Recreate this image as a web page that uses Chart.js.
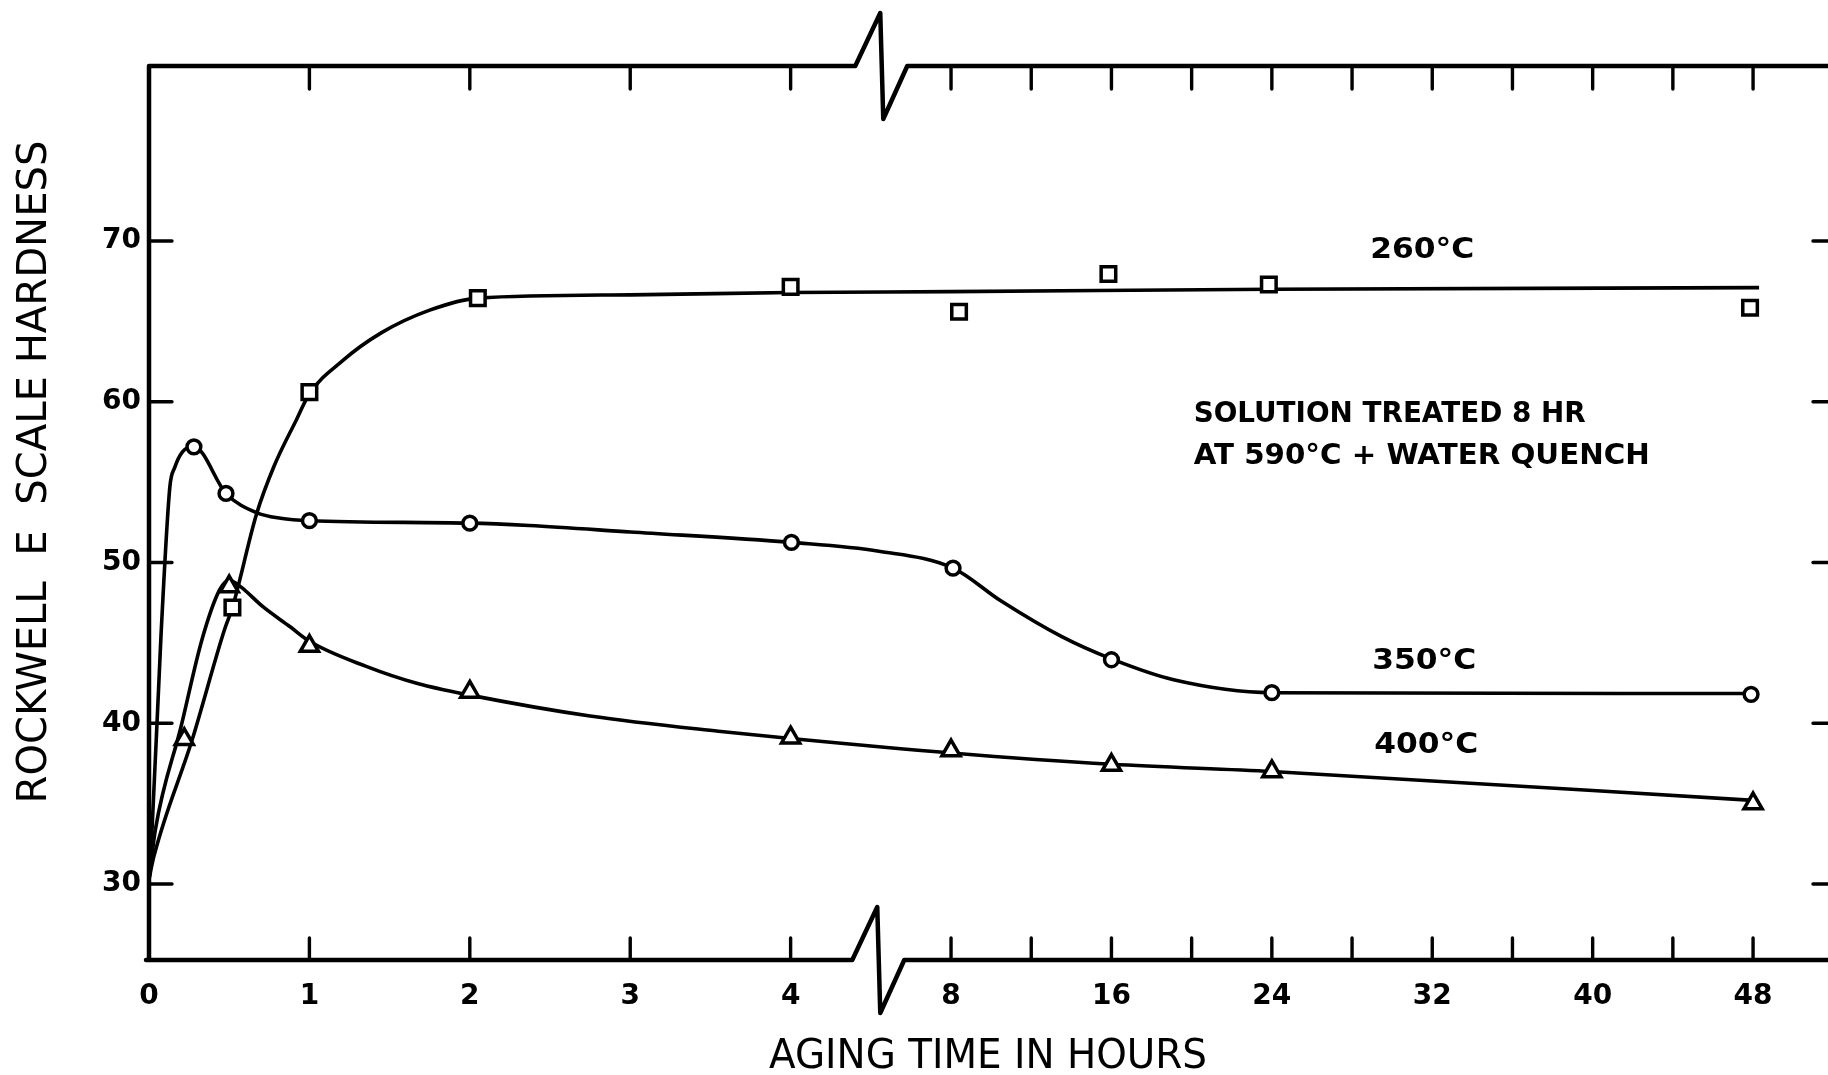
<!DOCTYPE html>
<html>
<head>
<meta charset="utf-8">
<title>Rockwell E hardness vs aging time</title>
<script src="https://cdn.jsdelivr.net/npm/chart.js@4.4.1/dist/chart.umd.min.js"></script>
<style>
  html, body { margin: 0; padding: 0; overflow: hidden; background: #fff; }
  canvas { display: block; }
</style>
</head>
<body>
<canvas id="chart" width="1850" height="1075"></canvas>
<script>
// measured points (aging time in hours, Rockwell E hardness)
const hours260 = [0.52, 1.0, 2.05, 4.0, 8.4, 15.85, 23.85, 47.85];
const hard260  = [47.2, 60.6, 66.45, 67.15, 65.6, 67.95, 67.3, 65.85];

const hours350 = [0.28, 0.48, 1.0, 2.0, 4.02, 8.1, 16.0, 24.0, 47.9];
const hard350  = [57.2, 54.3, 52.6, 52.45, 51.25, 49.65, 43.95, 41.9, 41.8];

const hours400 = [0.22, 0.5, 1.0, 2.0, 4.0, 8.0, 16.0, 24.0, 48.0];
const hard400  = [39.0, 48.5, 44.8, 41.95, 39.1, 38.3, 37.4, 37.0, 35.0];

// hand-drawn fitted curves
const curveHours260 = [0, 0.03, 0.27, 0.47, 0.52, 0.67, 0.78, 0.92, 1.0, 1.2, 1.45, 1.75, 2.05, 3.0, 4.0, 8.0, 24.0, 48.3];
const curveHard260  = [30.3, 31.7, 39.0, 45.8, 47.2, 53.0, 56.0, 58.9, 60.5, 62.5, 64.3, 65.7, 66.45, 66.65, 66.8, 66.85, 67.0, 67.1];

const curveHours350 = [0, 0.01, 0.075, 0.13, 0.16, 0.21, 0.28, 0.48, 0.67, 0.82, 1.0, 2.0, 2.37, 3.0, 4.02, 6.2, 8.1, 10.5, 13.5, 16.0, 19.1, 24.0, 48.2];
const curveHard350  = [30.2, 31.5, 45.5, 54.7, 55.9, 56.9, 57.2, 54.3, 53.1, 52.75, 52.6, 52.45, 52.3, 51.9, 51.25, 50.7, 49.65, 47.6, 45.4, 44.0, 42.7, 41.9, 41.85];

const curveHours400 = [0, 0.04, 0.2, 0.33, 0.44, 0.5, 0.57, 0.71, 0.88, 1.0, 1.35, 1.68, 2.0, 2.75, 3.55, 4.0, 8.0, 16.0, 24.0, 48.0];
const curveHard400  = [30.3, 33.4, 39.8, 45.2, 48.3, 48.9, 48.5, 47.25, 46.0, 45.1, 43.55, 42.45, 41.75, 40.45, 39.5, 39.05, 38.15, 37.45, 37.0, 35.2];

// axes
const tickHours  = [0, 1, 2, 3, 4, 8, 16, 24, 32, 40, 48];
const minorHours = [1, 2, 3, 4, 8, 12, 16, 20, 24, 28, 32, 36, 40, 44, 48];
const yTicks     = [30, 40, 50, 60, 70];

// broken time axis: 0-4 h linear, then 8 h per division
function toAxis(h) {
  if (h <= 4) return h;
  if (h >= 8) return 4 + h / 8;
  return 4 + (h - 4) / 4;
}
const BREAK_AT = 4.565;

const curveLabels = [
  { text: '260°C', h: 31.5, v: 69.4 },
  { text: '350°C', h: 31.6, v: 43.8 },
  { text: '400°C', h: 31.7, v: 38.6 }
];
const noteLines = [
  { text: 'SOLUTION TREATED 8 HR', h: 20.1, v: 59.2, w: 392 },
  { text: 'AT 590°C + WATER QUENCH', h: 20.1, v: 56.6, w: 456 }
];

const FONT = "'DejaVu Sans', sans-serif";

function pts(hs, vs) {
  return hs.map((h, i) => ({ x: toAxis(h), y: vs[i] }));
}

function markerSet(hs, vs, style, r) {
  return {
    data: pts(hs, vs),
    showLine: false,
    pointStyle: style,
    pointRadius: r,
    pointBorderWidth: 3.5,
    pointBorderColor: '#000',
    pointBackgroundColor: '#fff'
  };
}

function curveSet(hs, vs) {
  return {
    data: pts(hs, vs),
    showLine: true,
    borderColor: '#000',
    borderWidth: 3.6,
    pointRadius: 0,
    cubicInterpolationMode: 'monotone',
    fill: false
  };
}

function zigLine(c, y, bx, x1) {
  c.lineTo(bx - 26, y);
  c.lineTo(bx - 1, y - 53);
  c.lineTo(bx + 2, y + 53);
  c.lineTo(bx + 26, y);
  c.lineTo(x1, y);
}

// draw text squeezed or stretched to a given width
function fitText(c, text, x, y, w, align) {
  const m = c.measureText(text).width;
  c.save();
  c.translate(x, y);
  c.scale(w / m, 1);
  c.textAlign = align;
  c.fillText(text, 0, 0);
  c.restore();
}

const frame = {
  id: 'frame',
  beforeDraw(chart) {
    const c = chart.ctx;
    c.save();
    c.fillStyle = '#fff';
    c.fillRect(0, 0, chart.width, chart.height);
    c.restore();
  },
  afterDraw(chart) {
    const c = chart.ctx, xs = chart.scales.x, ys = chart.scales.y, a = chart.chartArea;
    const bx = xs.getPixelForValue(BREAK_AT);
    c.save();
    c.strokeStyle = '#000';
    c.lineCap = 'round';
    c.lineJoin = 'round';

    // frame with axis breaks
    c.lineWidth = 4.5;
    c.beginPath();
    c.moveTo(a.left, a.bottom);
    c.lineTo(a.left, a.top);
    zigLine(c, a.top, bx, chart.width + 10);
    c.moveTo(a.left - 3, a.bottom);
    zigLine(c, a.bottom, bx - 3, chart.width + 10);
    c.moveTo(a.right, a.top);
    c.lineTo(a.right, a.bottom);
    c.stroke();

    // inward tick marks
    c.lineWidth = 3.4;
    c.beginPath();
    minorHours.forEach(h => {
      const x = xs.getPixelForValue(toAxis(h));
      c.moveTo(x, a.top); c.lineTo(x, a.top + 23);
      c.moveTo(x, a.bottom); c.lineTo(x, a.bottom - 22);
    });
    yTicks.forEach(v => {
      const y = ys.getPixelForValue(v);
      c.moveTo(a.left, y); c.lineTo(a.left + 23, y);
      c.moveTo(a.right, y); c.lineTo(a.right - 23, y);
    });
    c.stroke();

    // text
    c.fillStyle = '#000';
    c.textBaseline = 'middle';
    c.font = 'bold 28px ' + FONT;
    curveLabels.forEach(l => {
      fitText(c, l.text, xs.getPixelForValue(toAxis(l.h)), ys.getPixelForValue(l.v), 104, 'center');
    });
    noteLines.forEach(l => {
      fitText(c, l.text, xs.getPixelForValue(toAxis(l.h)), ys.getPixelForValue(l.v), l.w, 'left');
    });

    c.font = '40px ' + FONT;
    fitText(c, 'AGING TIME IN HOURS', a.left + 839, 1058, 438, 'center');

    c.translate(35, 472);
    c.rotate(-Math.PI / 2);
    c.font = '41px ' + FONT;
    fitText(c, 'ROCKWELL  E  SCALE HARDNESS', 0, 0, 663, 'center');
    c.restore();
  }
};

new Chart(document.getElementById('chart'), {
  type: 'scatter',
  data: {
    datasets: [
      markerSet(hours260, hard260, 'rect', 10.3),
      markerSet(hours350, hard350, 'circle', 6.9),
      markerSet(hours400, hard400, 'triangle', 10.5),
      curveSet(curveHours260, curveHard260),
      curveSet(curveHours350, curveHard350),
      curveSet(curveHours400, curveHard400)
    ]
  },
  options: {
    responsive: false,
    animation: false,
    layout: { padding: { top: 66, right: 14, left: 0, bottom: 0 } },
    plugins: { legend: { display: false }, tooltip: { enabled: false } },
    scales: {
      x: {
        type: 'linear',
        min: 0,
        max: 10.517,
        afterBuildTicks: s => { s.ticks = tickHours.map(h => ({ value: toAxis(h) })); },
        afterFit: s => { s.height = 115; },
        grid: { display: false, drawTicks: false },
        border: { display: false },
        ticks: {
          autoSkip: false,
          maxRotation: 0,
          padding: 20,
          color: '#000',
          font: { family: FONT, size: 28, weight: 'bold' },
          callback: (v, i) => String(tickHours[i])
        }
      },
      y: {
        min: 25.27,
        max: 80.89,
        afterBuildTicks: s => { s.ticks = yTicks.map(v => ({ value: v })); },
        afterFit: s => { s.width = 149; },
        grid: { display: false, drawTicks: false },
        border: { display: false },
        ticks: {
          padding: 8,
          color: '#000',
          font: { family: FONT, size: 28, weight: 'bold' }
        }
      }
    }
  },
  plugins: [frame]
});
</script>
</body>
</html>
